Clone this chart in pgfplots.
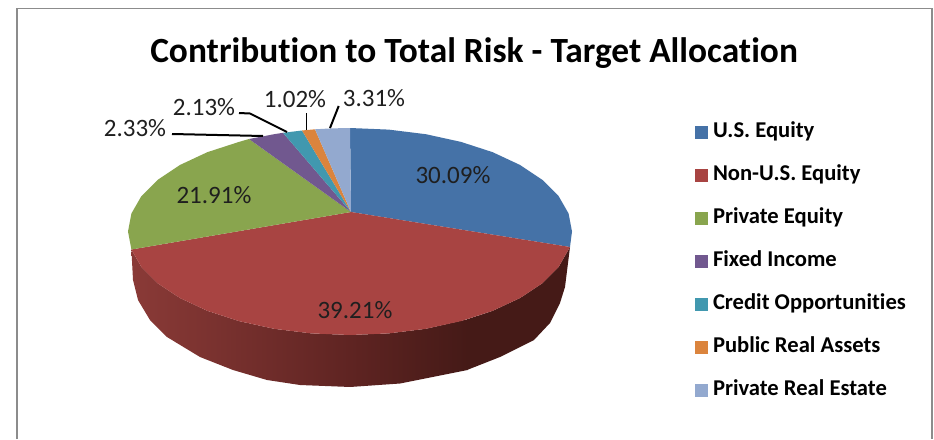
\documentclass[border=0pt]{standalone}
\usepackage{pgfplots}
\pgfplotsset{compat=1.18}
\usepackage{fontspec}
\setmainfont[Ligatures=NoCommon]{Carlito}
\definecolor{cblue}{HTML}{4572A7}
\definecolor{cred}{HTML}{A84442}
\definecolor{cgreen}{HTML}{89A54E}
\definecolor{cpurple}{HTML}{71588F}
\definecolor{cteal}{HTML}{4198AF}
\definecolor{corange}{HTML}{DB843D}
\definecolor{clblue}{HTML}{93A9CF}
\definecolor{frame}{HTML}{8C8C8C}
\begin{document}
\begin{tikzpicture}
\path[use as bounding box] (0,0) rectangle (934pt,439pt);
\begin{axis}[scale only axis,width=934pt,height=439pt,
  xmin=0,xmax=934,ymin=0,ymax=439,y dir=reverse,hide axis,clip=false,
  legend image code/.code={\fill[#1] (0pt,-1.5pt) rectangle (13pt,11.5pt);},
  legend style={at={(axis cs:695,123)},anchor=north west,draw=none,fill=none,
    font=\fontsize{22.6}{26}\selectfont\bfseries,row sep=24pt,inner sep=0pt,outer sep=0pt,
    nodes={anchor=base west,inner sep=0pt,text height=14pt,text depth=5pt},
    column sep=5pt}]
% frame
\addplot[frame,line width=1.5pt,forget plot] coordinates {(17,439) (17,8.5) (932,8.5) (932,439)};
% side wall, left to right
\addplot[left color={rgb,255:red,138;green,58;blue,55},right color={rgb,255:red,95;green,36;blue,34},draw=none,forget plot] coordinates {
  (131.4,249.5) (141.4,266.9) (157.7,283.3) (179.9,298) (207.3,310.8) (239,321.1) (274.1,328.8) (311.4,333.4) (350.5,335)
  (350.5,387) (300,385) (267,380) (233,370) (200,357) (167,337) (150,320) (138,300) (133,280)} -- cycle;
\addplot[left color={rgb,255:red,95;green,36;blue,34},right color={rgb,255:red,69;green,26;blue,23},draw=none,forget plot] coordinates {
  (350,335) (388.6,333.4) (425.9,328.8) (467.5,319.3) (467.5,370) (400,383.5) (350,387)} -- cycle;
\addplot[fill={rgb,255:red,69;green,26;blue,23},draw=none,forget plot] coordinates {
  (467,319.3) (492.7,310.8) (520.1,298) (542.3,283.3) (558.6,266.9) (570,247)
  (565,287) (560,303) (550,323) (534,340) (500,357) (467,370)} -- cycle;
% top face, clockwise from twelve o'clock
\addplot[fill=cblue,draw=none] coordinates {
  (351,212) (350,128) (388.6,129.6) (425.9,134.2) (461,141.9) (492.7,152.2) (520.1,165) (542.3,179.8)
  (558.6,196.1) (568.6,213.5) (572,231.5) (570,247)} -- cycle;
\addlegendentry{U.S. Equity}
\addplot[fill=cred,draw=none] coordinates {
  (351,212) (570,247) (558.6,266.9) (542.3,283.3) (520.1,298) (492.7,310.8) (461,321.1) (425.9,328.8)
  (388.6,333.4) (350,335) (311.4,333.4) (274.1,328.8) (239,321.1) (207.3,310.8) (179.9,298) (157.7,283.3)
  (141.4,266.9) (131.4,249.5)} -- cycle;
\addlegendentry{Non-U.S. Equity}
\addplot[fill=cgreen,draw=none] coordinates {
  (351,212) (131.4,249.5) (128,231.5) (131.4,213.5) (141.4,196.1) (157.7,179.8) (179.9,165) (207.3,152.2)
  (239,141.9) (249,139)} -- cycle;
\addlegendentry{Private Equity}
\addplot[fill=cpurple,draw=none] coordinates {(351,212) (249,139) (274.1,134.2) (283,132.8)} -- cycle;
\addlegendentry{Fixed Income}
\addplot[fill=cteal,draw=none] coordinates {(351,212) (283,132.8) (302,130.5)} -- cycle;
\addlegendentry{Credit Opportunities}
\addplot[fill=corange,draw=none] coordinates {(351,212) (302,130.5) (315,129.3)} -- cycle;
\addlegendentry{Public Real Assets}
\addplot[fill=clblue,draw=none] coordinates {(351,212) (315,129.3) (331,128.4) (350,128)} -- cycle;
\addlegendentry{Private Real Estate}
% leader lines
\addplot[black,line width=2pt,forget plot] coordinates {(172,134) (263,136)};
\addplot[black,line width=2pt,forget plot] coordinates {(239,113) (250,113.5) (287,132)};
\addplot[black,line width=0.8pt,forget plot] coordinates {(306,113) (306,130)};
\addplot[black,line width=2pt,forget plot] coordinates {(338.7,106) (330,128)};
% title and data labels
\node[font=\fontsize{35.4}{40}\selectfont\bfseries] at (axis cs:474,53) {Contribution to Total Risk - Target Allocation};
\begin{scope}[every node/.style={font=\fontsize{25}{30}\selectfont,text=black!88}]
\node at (axis cs:453,175) {30.09\%};
\node at (axis cs:355,310) {39.21\%};
\node at (axis cs:214,195) {21.91\%};
\node at (axis cs:135,128) {2.33\%};
\node at (axis cs:204,107) {2.13\%};
\node at (axis cs:295,99) {1.02\%};
\node at (axis cs:374,98) {3.31\%};
\end{scope}
\end{axis}
\end{tikzpicture}
\end{document}
